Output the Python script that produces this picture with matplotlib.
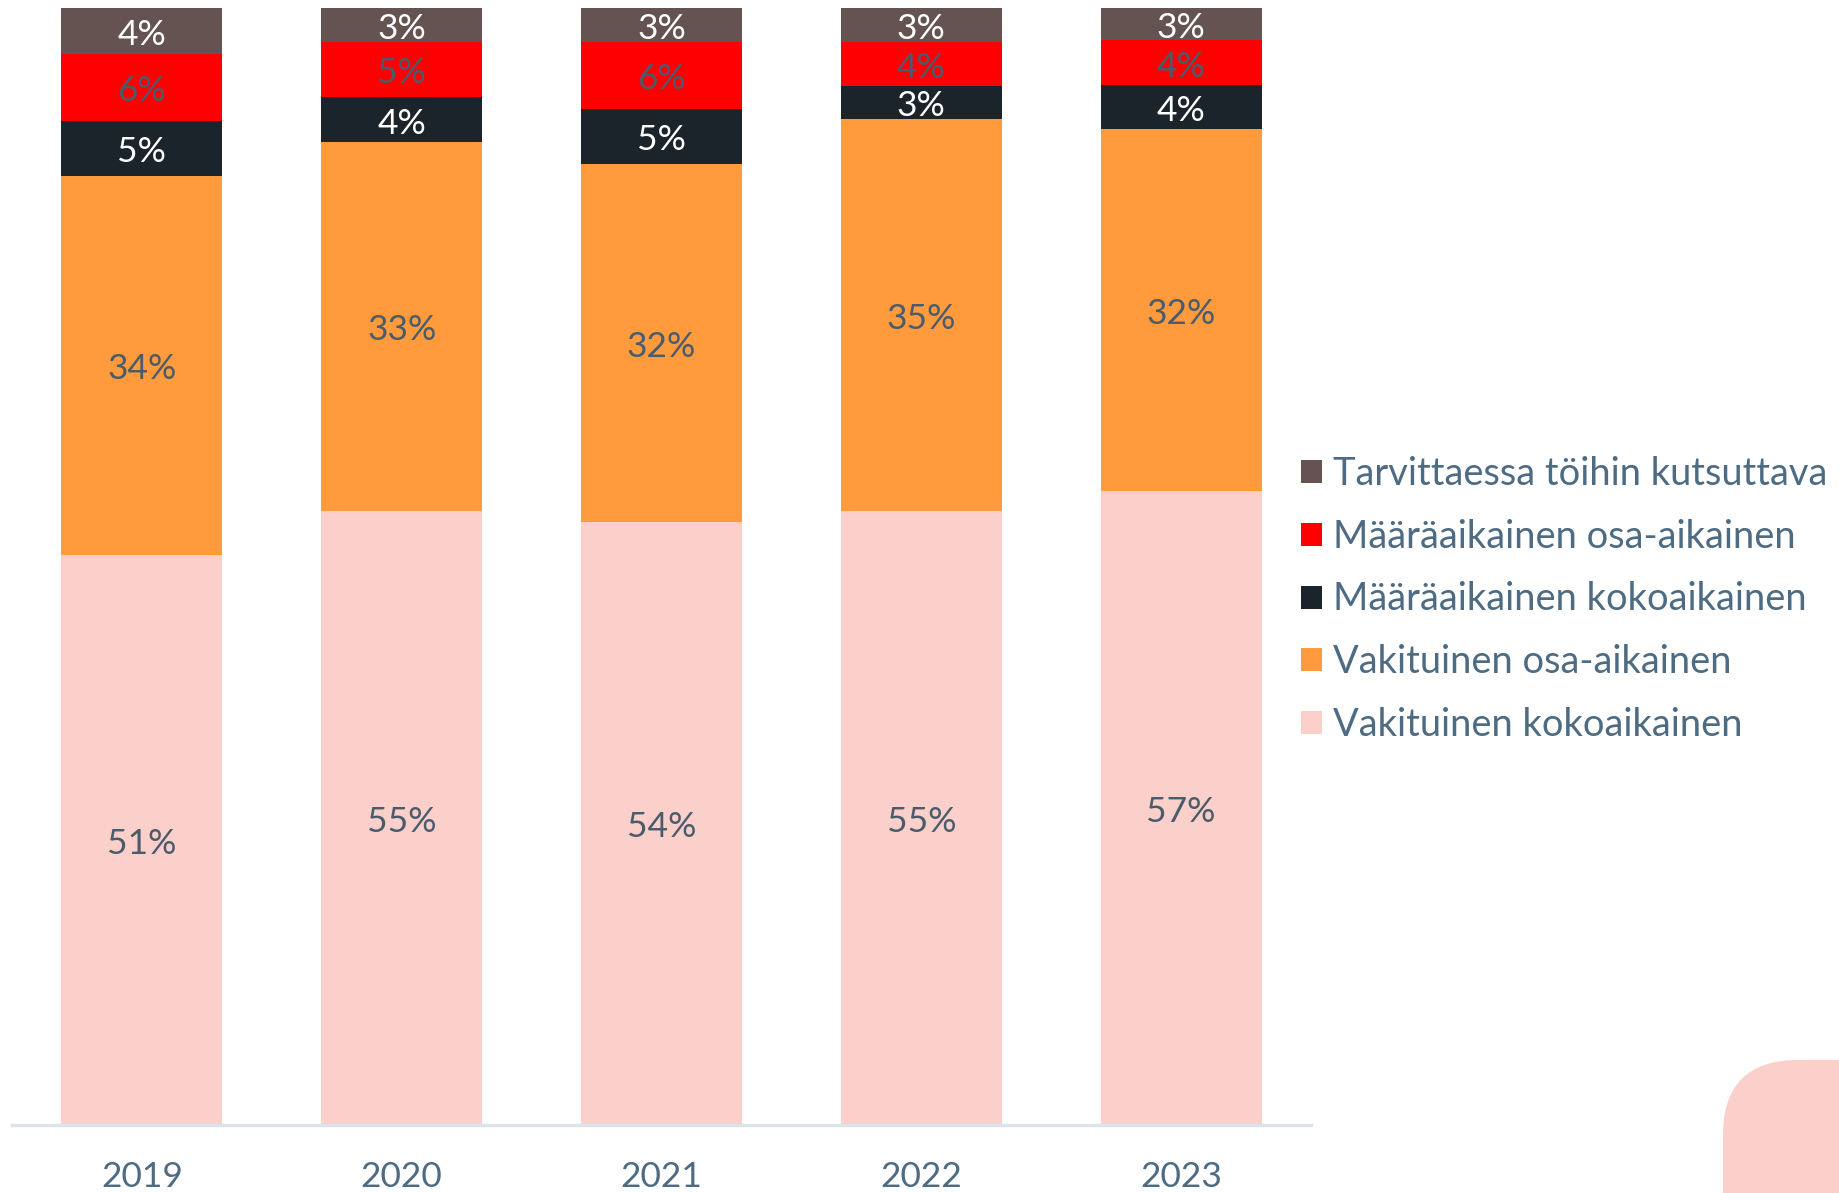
import matplotlib
matplotlib.use("Agg")
import matplotlib.pyplot as plt
from matplotlib.patches import FancyBboxPatch
import matplotlib.transforms as mtransforms
import numpy as np

years = ["2019", "2020", "2021", "2022", "2023"]
series_names = [
    "Vakituinen kokoaikainen",
    "Vakituinen osa-aikainen",
    "Määräaikainen kokoaikainen",
    "Määräaikainen osa-aikainen",
    "Tarvittaessa töihin kutsuttava",
]
vakituinen_koko = [51.0, 55.0, 54.0, 55.0, 56.8]
vakituinen_osa = [34.0, 33.0, 32.0, 35.1, 32.4]
maara_koko = [4.9, 4.0, 5.0, 2.9, 3.9]
maara_osa = [6.0, 5.0, 6.0, 4.0, 4.0]
tarvittaessa = [4.1, 3.0, 3.0, 3.0, 2.9]

series = [vakituinen_koko, vakituinen_osa, maara_koko, maara_osa, tarvittaessa]
colors = ["#FBCFCA", "#FF9B3D", "#1B242A", "#FF0000", "#645350"]
label_colors = ["#4A5C6C", "#4A5C6C", "#FFFFFF", "#4A5C6C", "#FFFFFF"]

FONT = ["Lato", "DejaVu Sans"]
plt.rcParams["font.family"] = FONT

W, H = 1840, 1193
fig = plt.figure(figsize=(W / 100, H / 100), dpi=100)

# decorative background axes
bg = fig.add_axes([0, 0, 1, 1], zorder=-5)
bg.set_xlim(0, W)
bg.set_ylim(H, 0)
bg.axis("off")
bg.add_patch(FancyBboxPatch((1723, 1060), 400, 400,
                            boxstyle="round,pad=0,rounding_size=75",
                            facecolor="#FBCFCA", edgecolor="none"))

left, right = 12 / W, 1311 / W
bottom, top = (H - 1125) / H, (H - 8) / H
ax = fig.add_axes([left, bottom, right - left, top - bottom])
ax.patch.set_alpha(0)

shift = mtransforms.offset_copy(ax.transData, fig=fig, x=0, y=-4, units="dots")

x = np.arange(len(years))
base = np.zeros(len(years))
handles = []
for vals, name, col, lc in zip(series, series_names, colors, label_colors):
    vals = np.array(vals)
    bars = ax.bar(x, vals, bottom=base, width=0.62, color=col, label=name,
                  edgecolor="none")
    handles.append(bars)
    for xi, b, v in zip(x, base, vals):
        ax.text(xi, b + v / 2, f"{v:.0f}%", ha="center", va="center",
                fontsize=25.5, color=lc, transform=shift)
    base = base + vals

ax.set_xlim(-0.5, 4.5)
ax.set_ylim(0, 100)
ax.set_xticks(x)
ax.set_xticklabels(years, fontsize=25.5, color="#4D6B82")
ax.tick_params(axis="x", length=0, pad=26)
ax.set_yticks([])
for s in ["top", "right", "left"]:
    ax.spines[s].set_visible(False)
ax.spines["bottom"].set_color("#DCE3EA")
ax.spines["bottom"].set_linewidth(2.5)

leg = fig.legend(handles[::-1], series_names[::-1], loc="center left",
                 bbox_to_anchor=(1301 / W, (H - 599.5) / H), frameon=False,
                 fontsize=27.4, handlelength=0.55, handleheight=0.55,
                 handletextpad=0.28, labelspacing=0.70, borderpad=0,
                 borderaxespad=0)
for t in leg.get_texts():
    t.set_color("#4D6B82")

fig.savefig("out.png", dpi=100)
